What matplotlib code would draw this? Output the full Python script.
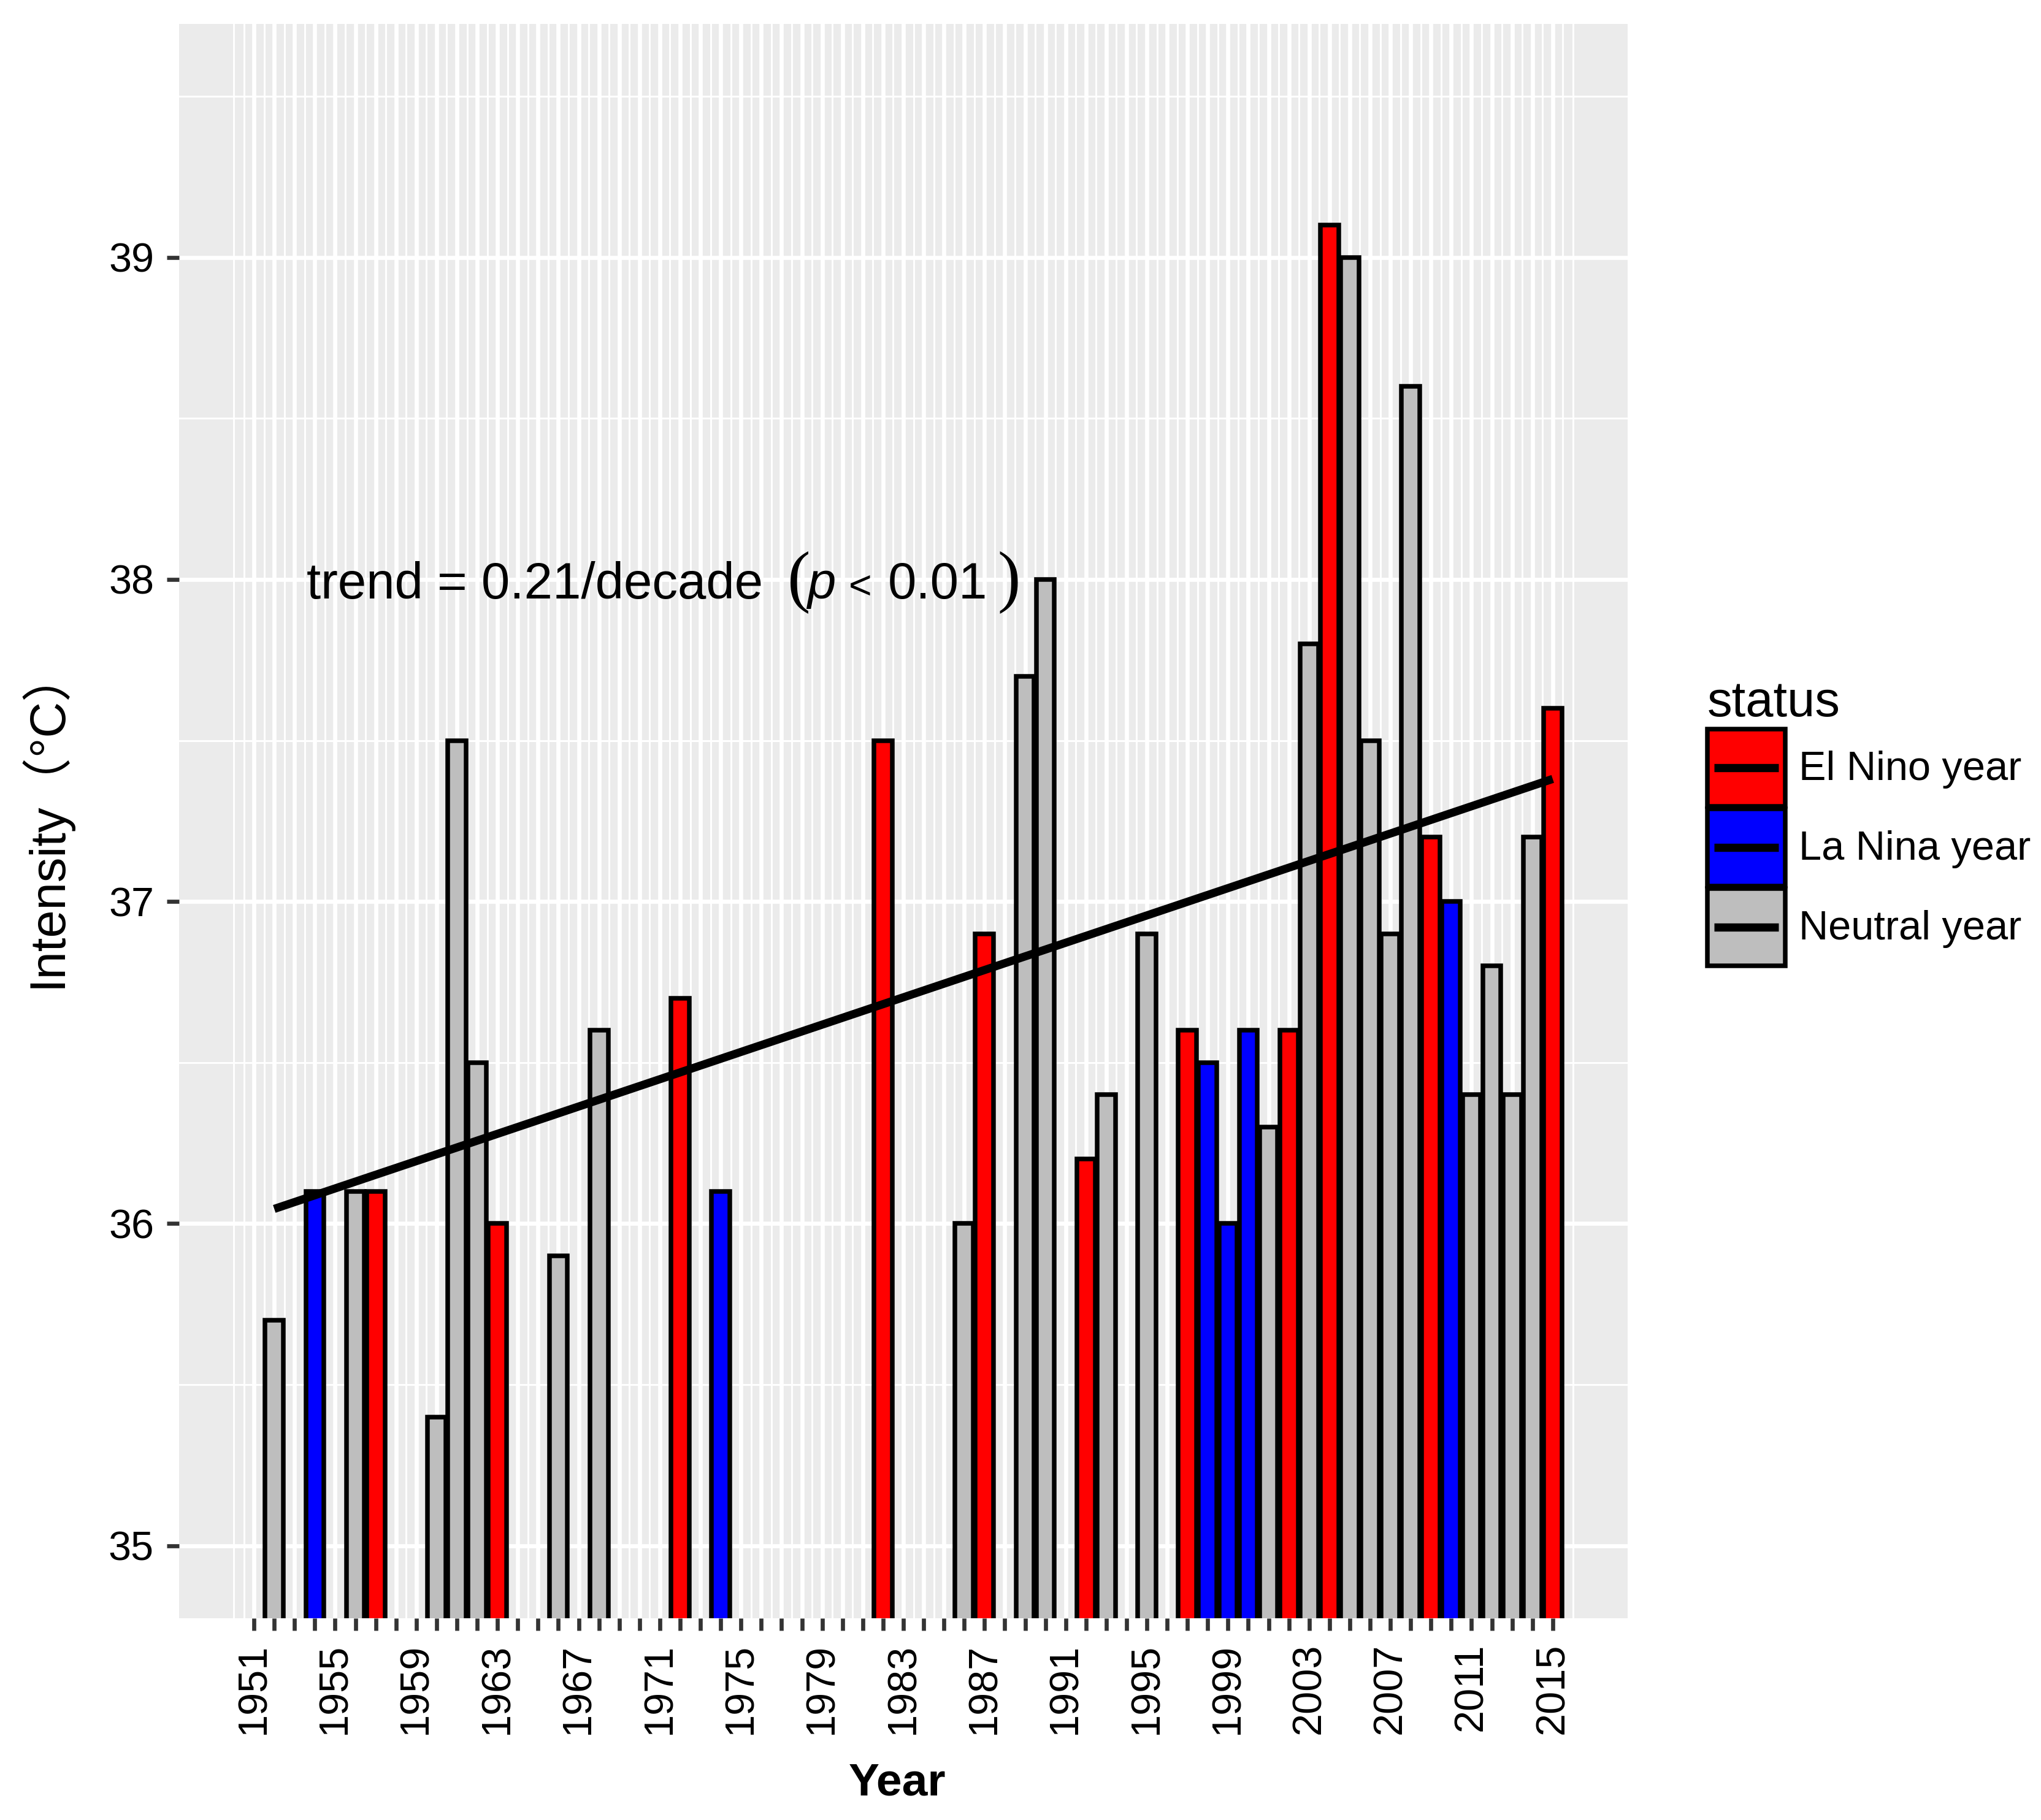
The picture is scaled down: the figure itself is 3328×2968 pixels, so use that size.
import numpy as np
import matplotlib
matplotlib.use('Agg')
import matplotlib.pyplot as plt
import matplotlib.transforms as mtransforms
from matplotlib.patches import Patch, Rectangle
from matplotlib.lines import Line2D

plt.rcParams['font.family'] = ['Liberation Sans', 'Noto Sans CJK SC', 'DejaVu Sans']

# data
years = [1952, 1954, 1956, 1957, 1960, 1961, 1962, 1963, 1966, 1968,
         1972, 1974, 1982, 1986, 1987, 1989, 1990, 1992, 1993, 1995,
         1997, 1998, 1999, 2000, 2001, 2002, 2003, 2004, 2005, 2006,
         2007, 2008, 2009, 2010, 2011, 2012, 2013, 2014, 2015]
intensity = [35.7, 36.1, 36.1, 36.1, 35.4, 37.5, 36.5, 36.0, 35.9, 36.6,
             36.7, 36.1, 37.5, 36.0, 36.9, 37.7, 38.0, 36.2, 36.4, 36.9,
             36.6, 36.5, 36.0, 36.6, 36.3, 36.6, 37.8, 39.1, 39.0, 37.5,
             36.9, 38.6, 37.2, 37.0, 36.4, 36.8, 36.4, 37.2, 37.6]
status = ['N', 'L', 'N', 'E', 'N', 'N', 'N', 'E', 'N', 'N',
          'E', 'L', 'E', 'N', 'E', 'N', 'N', 'E', 'N', 'N',
          'E', 'L', 'L', 'L', 'N', 'E', 'N', 'E', 'N', 'N',
          'N', 'N', 'E', 'L', 'N', 'N', 'N', 'N', 'E']

status_names = {'E': 'El Nino year', 'L': 'La Nina year', 'N': 'Neutral year'}
status_colors = {'E': '#FF0000', 'L': '#0000FF', 'N': '#BEBEBE'}

tick_years = list(range(1951, 2016))
label_years = list(range(1951, 2016, 4))
y_ticks = [35, 36, 37, 38, 39]

trend_x = 1953.6
trend_y = 37.94


class KeyHandler:
    # filled square with the trend line across its middle, like ggplot's key
    def legend_artist(self, legend, orig_handle, fontsize, handlebox):
        x0, y0 = handlebox.xdescent, handlebox.ydescent
        w, h = handlebox.width, handlebox.height
        rect = Rectangle((-x0, -y0), w, h,
                         facecolor=orig_handle.get_facecolor(),
                         edgecolor='black', linewidth=1.8,
                         transform=handlebox.get_transform())
        handlebox.add_artist(rect)
        pad = 2.6
        line = Line2D([-x0 + pad, -x0 + w - pad], [-y0 + h / 2] * 2,
                      color='black', linewidth=3.2, solid_capstyle='butt',
                      transform=handlebox.get_transform())
        handlebox.add_artist(line)
        return rect


fig = plt.figure(figsize=(3328 / 300, 2968 / 300), dpi=300)
ax = fig.add_axes([0.0877, 0.1109, 0.7098, 0.876])
ax.set_facecolor('#EBEBEB')
for s in ax.spines.values():
    s.set_visible(False)

# grid
ax.set_xticks(tick_years)
ax.set_xticklabels([str(y) if y in label_years else '' for y in tick_years],
                   rotation=90, fontsize=16)
ax.set_xticks(np.arange(1950, 2016.01, 0.5), minor=True)
ax.set_yticks(y_ticks)
ax.set_yticklabels([str(v) for v in y_ticks], fontsize=16)
ax.set_yticks(np.arange(35.5, 39.6, 1.0), minor=True)
ax.grid(which='major', color='white', linewidth=1.6, zorder=0)
ax.grid(which='minor', color='white', linewidth=0.7, zorder=0)
ax.set_axisbelow(True)
ax.tick_params(which='major', direction='out', length=4.8, width=1.6,
               color='#333333', pad=5, labelcolor='black')
ax.tick_params(which='minor', length=0)

# bars
colors = [status_colors[s] for s in status]
ax.bar(years, intensity, width=0.9, color=colors, edgecolor='black',
       linewidth=1.8, zorder=2)

# linear trend
coef = np.polyfit(years, intensity, 1)
xs = np.array([min(years), max(years)])
ax.plot(xs, np.polyval(coef, xs), color='black', linewidth=3.2,
        solid_capstyle='butt', zorder=3)

ax.set_xlim(1947.305, 2018.695)
ax.set_ylim(34.775, 39.725)

# trend annotation, built piece by piece so the brackets can be tall
pieces = [
    ('trend = 0.21/decade', dict(fontsize=20), 0),
    ('(', dict(fontsize=27, family='Liberation Serif'), 40),
    ('p', dict(fontsize=20, style='italic'), -6),
    ('<', dict(fontsize=15.5), 22),
    ('0.01', dict(fontsize=20), 26),
    (')', dict(fontsize=27, family='Liberation Serif'), 16),
]
renderer = fig.canvas.get_renderer()
tr = ax.transData
for txt, kw, gap in pieces:
    tr = mtransforms.offset_copy(tr, fig=fig, x=gap, y=0, units='dots')
    t = ax.text(trend_x, trend_y, txt, transform=tr, ha='left',
                va='baseline', zorder=4, **kw)
    ext = t.get_window_extent(renderer=renderer)
    tr = mtransforms.offset_copy(tr, fig=fig, x=ext.width, y=0, units='dots')

fig.text(0.022, 0.551, 'Intensity（°C）', rotation=90, fontsize=19.5,
         ha='center', va='center')
fig.text(0.4396, 0.0138, 'Year', fontsize=18, fontweight='bold',
         ha='center', va='baseline')

# legend
handles = [Patch(facecolor=status_colors[k]) for k in ['E', 'L', 'N']]
labels = [status_names[k] for k in ['E', 'L', 'N']]
leg = fig.legend(handles, labels, title='status', loc='upper left',
                 bbox_to_anchor=(0.8365, 0.6263), frameon=False,
                 fontsize=16, title_fontsize=19.5, handlelength=1.9,
                 handleheight=2.53, labelspacing=0.06, handletextpad=0.34,
                 borderpad=0, borderaxespad=0, alignment='left',
                 handler_map={Patch: KeyHandler()})

fig.savefig('out.png', dpi=300)
